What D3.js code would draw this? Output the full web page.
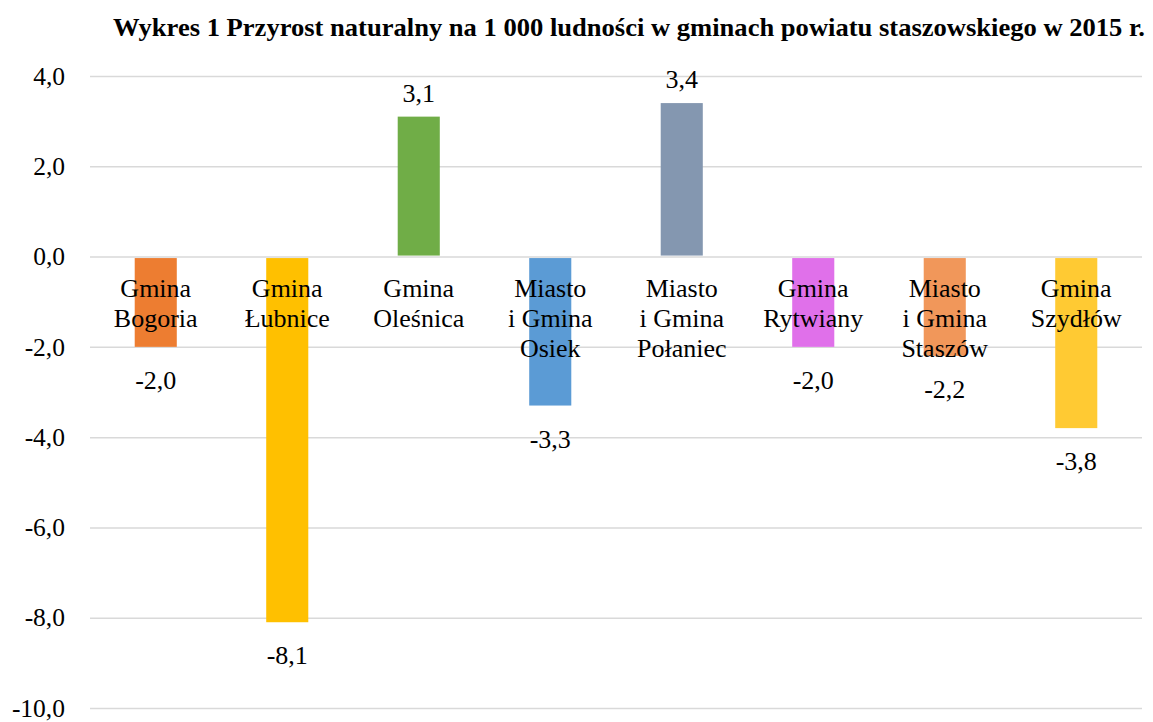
<!DOCTYPE html>
<html>
<head>
<meta charset="utf-8">
<script src="https://cdn.jsdelivr.net/npm/d3@7"></script>
<style>
  body { margin: 0; background: #fff; }
  text { font-family: "Liberation Serif", "Times New Roman", serif; }
</style>
</head>
<body>
<svg id="chart"></svg>
<script>
// data
const gminy = [
  ['Gmina', 'Bogoria'],
  ['Gmina', 'Łubnice'],
  ['Gmina', 'Oleśnica'],
  ['Miasto', 'i Gmina', 'Osiek'],
  ['Miasto', 'i Gmina', 'Połaniec'],
  ['Gmina', 'Rytwiany'],
  ['Miasto', 'i Gmina', 'Staszów'],
  ['Gmina', 'Szydłów']
];
const przyrost = [-2.0, -8.1, 3.1, -3.3, 3.4, -2.0, -2.2, -3.8];
const kolory = ['#ED7D31', '#FFC000', '#70AD47', '#5B9BD5', '#8497B0', '#E070EA', '#F1975A', '#FFCA33'];
const yTicks = [4, 2, 0, -2, -4, -6, -8, -10];
const tytul = 'Wykres 1 Przyrost naturalny na 1 000 ludności w gminach powiatu staszowskiego w 2015 r.';

const w = 1153, h = 722;
const svg = d3.select('#chart').attr('width', w).attr('height', h);

const fmt = v => d3.format('.1f')(v).replace('.', ',').replace('−', '-');

const x = d3.scaleBand()
  .domain(d3.range(gminy.length))
  .range([90, 1142])
  .paddingInner(0.68)
  .paddingOuter(0.34);

const y = d3.scaleLinear()
  .domain([-10, 4])
  .range([708, 76]);

svg.append('text')
  .attr('x', 629).attr('y', 36)
  .attr('text-anchor', 'middle')
  .attr('font-weight', 'bold')
  .attr('font-size', 26)
  .attr('textLength', 1032)
  .attr('lengthAdjust', 'spacingAndGlyphs')
  .text(tytul);

// gridlines + y labels
const yAxis = d3.axisLeft(y)
  .tickValues(yTicks)
  .tickSize(-(1142 - 90))
  .tickPadding(25)
  .tickFormat(fmt);

const gy = svg.append('g')
  .attr('transform', 'translate(90,0)')
  .call(yAxis);
gy.select('.domain').remove();
gy.selectAll('.tick line').attr('stroke', '#d9d9d9').attr('stroke-width', 1.5);
gy.selectAll('.tick text')
  .attr('font-size', 25.5)
  .attr('fill', '#000')
  .attr('font-family', '"Liberation Serif", serif');

// bars
svg.selectAll('.bar')
  .data(przyrost)
  .join('rect')
  .attr('class', 'bar')
  .attr('x', (d, i) => x(i))
  .attr('width', x.bandwidth())
  .attr('y', d => d > 0 ? y(d) : y(0) + 1.5)
  .attr('height', d => d > 0 ? y(0) - y(d) - 1 : y(d) - y(0) - 1.5)
  .attr('fill', (d, i) => kolory[i]);

// value labels
svg.selectAll('.val')
  .data(przyrost)
  .join('text')
  .attr('class', 'val')
  .attr('x', (d, i) => x(i) + x.bandwidth() / 2)
  .attr('y', d => d > 0 ? y(d) - 15 : y(d) + 42)
  .attr('text-anchor', 'middle')
  .attr('font-size', 26)
  .text(fmt);

// category labels under the zero line
const cat = svg.selectAll('.cat')
  .data(gminy)
  .join('text')
  .attr('class', 'cat')
  .attr('x', (d, i) => x(i) + x.bandwidth() / 2)
  .attr('y', 297)
  .attr('text-anchor', 'middle')
  .attr('font-size', 26);

cat.selectAll('tspan')
  .data(d => d)
  .join('tspan')
  .attr('x', function() { return this.parentNode.getAttribute('x'); })
  .attr('dy', (d, i) => i === 0 ? 0 : 30)
  .text(d => d);
</script>
</body>
</html>
